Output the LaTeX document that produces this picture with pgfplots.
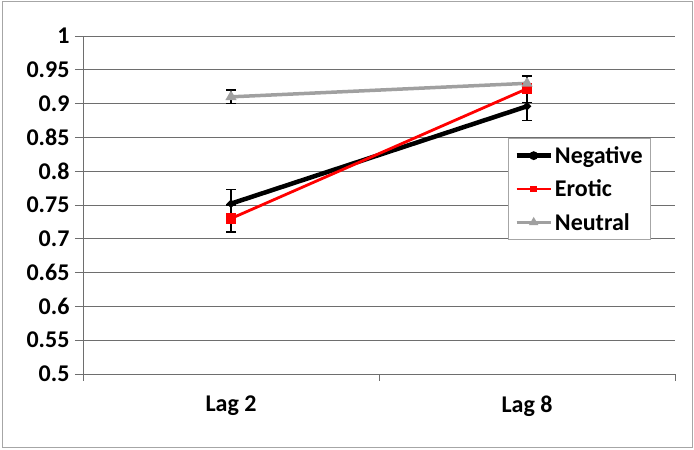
\documentclass[border=0pt]{standalone}
\usepackage{fontspec}
\setmainfont{Carlito}
\usepackage{pgfplots}
\pgfplotsset{compat=1.18}
\definecolor{neutralgray}{RGB}{160,160,160}
\definecolor{gridgray}{RGB}{110,110,110}
\begin{document}
\begin{tikzpicture}[x=1pt,y=1pt]
\useasboundingbox (0,0) rectangle (694,450);
\draw[gray!70, line width=1pt] (2,2) rectangle (692,448);
\begin{axis}[
  at={(83pt,76pt)}, anchor=south west,
  scale only axis, width=592pt, height=338pt,
  xmin=0, xmax=2, ymin=0.5, ymax=1,
  axis x line*=bottom, axis y line*=left,
  axis line style={gridgray, line width=0.8pt, -},
  xtick={0.5,1.5}, xticklabels={Lag 2, Lag 8},
  minor xtick={0,1,2},
  ytick={0.5,0.55,...,1.0},
  yticklabels={0.5,0.55,0.6,0.65,0.7,0.75,0.8,0.85,0.9,0.95,1},
  tick align=outside,
  major tick length=8pt, minor tick length=7pt,
  x tick style={draw=none},
  minor x tick style={draw=gridgray, line width=0.8pt},
  y tick style={gridgray, line width=0.8pt},
  ymajorgrids, grid style={gridgray, line width=0.8pt},
  xticklabel style={yshift=-10pt},
  yticklabel style={xshift=-2pt},
  tick label style={font=\fontsize{24}{28}\selectfont\bfseries},
  /pgf/number format/assume math mode=true,
  legend style={at={(0.718,0.698)}, anchor=north west,
    draw=gray!70, line width=0.8pt, fill=white,
    font=\fontsize{24}{28}\selectfont\bfseries,
    row sep=11pt, inner xsep=6pt, inner ysep=6pt,
    legend cell align=left},
  legend image code/.code={
    \draw[#1] (0pt,0pt) -- (34pt,0pt);
    \draw[#1, only marks, mark size=2pt] plot coordinates {(17pt,0pt)};},
  clip=false,
]
\addplot[black, line width=4.5pt, mark=*, mark size=1.2pt,
  error bars/.cd, y dir=both, y explicit,
  error bar style={black, line width=1.2pt},
  error mark options={black, rotate=90, mark size=5pt, line width=1.2pt}]
  coordinates {(0.5,0.752) +- (0,0.021) (1.5,0.896) +- (0,0.021)};
\addlegendentry{Negative}
\addplot[red, line width=2.8pt, mark=square*, mark size=4pt,
  error bars/.cd, y dir=both, y explicit,
  error bar style={black, line width=1.2pt},
  error mark options={black, rotate=90, mark size=5pt, line width=1.2pt}]
  coordinates {(0.5,0.730) +- (0,0.020) (1.5,0.922) +- (0,0.020)};
\addlegendentry{Erotic}
\addplot[neutralgray, line width=3.5pt, mark=triangle*, mark size=3pt,
  error bars/.cd, y dir=both, y explicit,
  error bar style={black, line width=1.2pt},
  error mark options={black, rotate=90, mark size=5pt, line width=1.2pt}]
  coordinates {(0.5,0.910) +- (0,0.010) (1.5,0.930) +- (0,0.010)};
\addlegendentry{Neutral}
\end{axis}
\end{tikzpicture}
\end{document}
